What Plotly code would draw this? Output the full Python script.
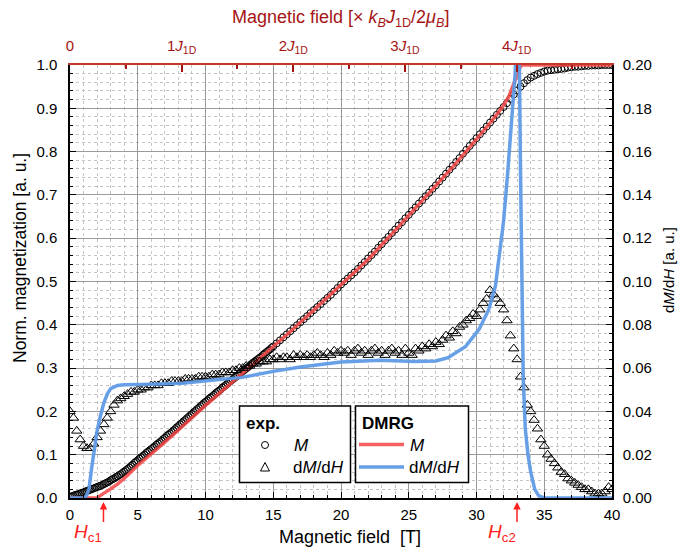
import plotly.graph_objects as go

# ---------------- data ----------------
# field grid of the exp. dM/dH sweep (and high-field part of the M sweep), in T
H_exp = [
    0, 0.25, 0.5, 0.75, 1, 1.25, 1.5, 1.75, 2, 2.25, 2.5, 2.75, 3, 3.25, 3.5, 3.75,
    4, 4.25, 4.5, 4.75, 5, 5.25, 5.5, 5.75, 6, 6.25, 6.5, 6.75, 7, 7.25, 7.5, 7.75,
    8, 8.25, 8.5, 8.75, 9, 9.25, 9.5, 9.75, 10, 10.25, 10.5, 10.75, 11, 11.25, 11.5, 11.75,
    12, 12.25, 12.5, 12.75, 13, 13.25, 13.5, 13.75, 14, 14.25, 14.5, 14.75, 15, 15.25, 15.5, 15.75,
    16, 16.25, 16.5, 16.75, 17, 17.25, 17.5, 17.75, 18, 18.25, 18.5, 18.75, 19, 19.25, 19.5, 19.75,
    20, 20.25, 20.5, 20.75, 21, 21.25, 21.5, 21.75, 22, 22.25, 22.5, 22.75, 23, 23.25, 23.5, 23.75,
    24, 24.25, 24.5, 24.75, 25, 25.25, 25.5, 25.75, 26, 26.25, 26.5, 26.75, 27, 27.25, 27.5, 27.75,
    28, 28.25, 28.5, 28.75, 29, 29.25, 29.5, 29.75, 30, 30.25, 30.5, 30.75, 31, 31.25, 31.5, 31.75,
    32, 32.25, 32.5, 32.75, 33, 33.25, 33.5, 33.75, 34, 34.25, 34.5, 34.75, 35, 35.25, 35.5, 35.75,
    36, 36.25, 36.5, 36.75, 37, 37.25, 37.5, 37.75, 38, 38.25, 38.5, 38.75, 39, 39.25, 39.5, 39.75,
    40]

# dense low-field part of the M sweep, in T
H_lo = [
    0, 0.125, 0.25, 0.375, 0.5, 0.625, 0.75, 0.875,
    1, 1.125, 1.25, 1.375, 1.5, 1.625, 1.75, 1.875,
    2, 2.125, 2.25, 2.375, 2.5, 2.625, 2.75, 2.875,
    3, 3.125, 3.25, 3.375, 3.5, 3.625, 3.75, 3.875,
    4, 4.125, 4.25, 4.375, 4.5, 4.625, 4.75, 4.875,
    5, 5.125, 5.25, 5.375, 5.5, 5.625, 5.75, 5.875,
    6, 6.125, 6.25, 6.375, 6.5, 6.625, 6.75, 6.875,
    7, 7.125, 7.25, 7.375, 7.5, 7.625, 7.75, 7.875,
    8, 8.125, 8.25, 8.375, 8.5, 8.625, 8.75, 8.875,
    9, 9.125, 9.25, 9.375, 9.5, 9.625, 9.75, 9.875,
    10, 10.125, 10.25, 10.375, 10.5, 10.625, 10.75, 10.875,
    11, 11.125, 11.25, 11.375, 11.5, 11.625, 11.75, 11.875,
    12, 12.125, 12.25, 12.375, 12.5, 12.625, 12.75, 12.875,
    13, 13.125, 13.25, 13.375, 13.5, 13.625, 13.75, 13.875,
    14, 14.125, 14.25, 14.375, 14.5, 14.625, 14.75, 14.875,
    15]

M_lo = [
    0.003, 0.004, 0.005, 0.007, 0.008, 0.009, 0.010, 0.012,
    0.013, 0.015, 0.016, 0.018, 0.019, 0.021, 0.022, 0.024,
    0.025, 0.027, 0.028, 0.030, 0.032, 0.034, 0.036, 0.038,
    0.041, 0.043, 0.045, 0.048, 0.050, 0.053, 0.055, 0.058,
    0.061, 0.064, 0.067, 0.070, 0.074, 0.077, 0.081, 0.084,
    0.087, 0.091, 0.094, 0.097, 0.100, 0.104, 0.107, 0.110,
    0.113, 0.116, 0.119, 0.123, 0.126, 0.129, 0.132, 0.136,
    0.139, 0.143, 0.146, 0.149, 0.152, 0.156, 0.159, 0.163,
    0.166, 0.170, 0.173, 0.177, 0.180, 0.184, 0.187, 0.191,
    0.194, 0.198, 0.201, 0.205, 0.208, 0.212, 0.215, 0.219,
    0.222, 0.225, 0.229, 0.232, 0.235, 0.238, 0.242, 0.245,
    0.248, 0.251, 0.255, 0.258, 0.261, 0.264, 0.268, 0.271,
    0.274, 0.277, 0.280, 0.283, 0.287, 0.290, 0.293, 0.296,
    0.299, 0.302, 0.305, 0.309, 0.312, 0.315, 0.318, 0.321,
    0.324, 0.327, 0.331, 0.334, 0.337, 0.340, 0.343, 0.347,
    0.350]

# M sweep above 15 T (on H_exp[61:] = 15.25 ... 40 T)
M_hi = [
    0.357, 0.364, 0.371,
    0.378, 0.385, 0.392, 0.399, 0.406, 0.413, 0.420, 0.427, 0.434, 0.441, 0.448, 0.455, 0.462, 0.469, 0.477, 0.485,
    0.493, 0.500, 0.507, 0.514, 0.521, 0.529, 0.537, 0.545, 0.553, 0.561, 0.569, 0.578, 0.586, 0.595, 0.603, 0.612,
    0.620, 0.629, 0.637, 0.646, 0.654, 0.663, 0.671, 0.680, 0.688, 0.697, 0.705, 0.714, 0.722, 0.731, 0.740, 0.749,
    0.758, 0.767, 0.776, 0.785, 0.795, 0.804, 0.813, 0.822, 0.831, 0.840, 0.849, 0.858, 0.867, 0.876, 0.885, 0.894,
    0.903, 0.912, 0.922, 0.932, 0.941, 0.950, 0.958, 0.965, 0.971, 0.975, 0.979, 0.982, 0.985, 0.987, 0.988, 0.989,
    0.990, 0.991, 0.992, 0.994, 0.995, 0.996, 0.996, 0.997, 0.998, 0.998, 0.999, 0.999, 0.999, 1.000, 1.000, 1.000,
    1.000]

dMdH_exp = [
    0.040, 0.037, 0.031, 0.027, 0.024, 0.023, 0.023, 0.025, 0.028, 0.031, 0.034, 0.037, 0.040, 0.043, 0.045, 0.046,
    0.047, 0.048, 0.049, 0.049, 0.050, 0.050, 0.051, 0.051, 0.052, 0.052, 0.052, 0.053, 0.053, 0.053, 0.054, 0.054,
    0.054, 0.054, 0.055, 0.055, 0.055, 0.055, 0.056, 0.056, 0.056, 0.056, 0.057, 0.057, 0.057, 0.058, 0.058, 0.058,
    0.059, 0.059, 0.060, 0.060, 0.061, 0.061, 0.062, 0.062, 0.063, 0.063, 0.063, 0.064, 0.064, 0.065, 0.064, 0.065,
    0.065, 0.064, 0.066, 0.065, 0.066, 0.065, 0.066, 0.065, 0.066, 0.067, 0.066, 0.065, 0.067, 0.066, 0.068, 0.067,
    0.068, 0.067, 0.068, 0.066, 0.068, 0.069, 0.067, 0.068, 0.066, 0.068, 0.069, 0.067, 0.068, 0.066, 0.068, 0.069,
    0.067, 0.068, 0.066, 0.069, 0.067, 0.066, 0.069, 0.068, 0.070, 0.069, 0.071, 0.070, 0.072, 0.071, 0.073, 0.075,
    0.074, 0.077, 0.076, 0.079, 0.080, 0.082, 0.083, 0.085, 0.084, 0.087, 0.090, 0.092, 0.096, 0.094, 0.092, 0.090,
    0.087, 0.082, 0.075, 0.069, 0.064, 0.056, 0.051, 0.043, 0.040, 0.036, 0.032, 0.027, 0.024, 0.020, 0.018, 0.016,
    0.014, 0.012, 0.011, 0.009, 0.008, 0.007, 0.006, 0.005, 0.004, 0.004, 0.003, 0.002, 0.002, 0.002, 0.003, 0.005,
    0.004]

H_dmrg_M = [0, 2.0, 2.2, 2.6, 3.0, 3.5, 4, 5, 6, 7, 8, 9, 10, 11, 12, 13, 14, 15, 16, 18, 20, 22, 24,
            26, 27, 28, 29, 30, 30.5, 31, 31.5, 32, 32.4, 32.7, 33.0, 33.2, 33.35, 34, 36, 40]
M_dmrg = [0, 0, 0.005, 0.012, 0.021, 0.032, 0.045, 0.075, 0.101, 0.129, 0.157, 0.186, 0.214, 0.241,
          0.268, 0.295, 0.322, 0.349, 0.377, 0.434, 0.492, 0.551, 0.618, 0.686, 0.720, 0.756, 0.792,
          0.828, 0.847, 0.866, 0.886, 0.907, 0.928, 0.952, 0.980, 0.994, 1.0, 1.0, 1.0, 1.0]

H_dmrg_d = [0, 1.0, 1.2, 1.4, 1.6, 1.8, 2.0, 2.25, 2.5, 2.75, 3.0, 3.5, 4, 6, 8.3, 10.8, 12.6, 15, 17,
            20, 22.9, 25.4, 27, 27.9, 29.2, 30.2, 30.9, 31.4, 31.7, 32.0, 32.3, 32.6, 32.85, 33.05,
            33.15, 33.25, 33.35, 33.45, 33.6, 33.8, 34.0, 34.3, 34.6, 35, 40]
dMdH_dmrg = [0, 0, 0.001, 0.004, 0.014, 0.024, 0.031, 0.038, 0.044, 0.048, 0.0505, 0.052, 0.0523,
             0.0525, 0.053, 0.0546, 0.0556, 0.0585, 0.0605, 0.0628, 0.0636, 0.063, 0.0633, 0.0648,
             0.070, 0.078, 0.087, 0.098, 0.112, 0.128, 0.150, 0.174, 0.196, 0.23, 0.21, 0.15, 0.095,
             0.055, 0.032, 0.020, 0.012, 0.004, 0.001, 0, 0]

J_ticks = [0, 1, 2, 3, 4]
J_ticktext = ["0", "1<i>J</i><sub>1D</sub>", "2<i>J</i><sub>1D</sub>",
              "3<i>J</i><sub>1D</sub>", "4<i>J</i><sub>1D</sub>"]
T_PER_J = 8.24
Hc1, Hc2 = 2.47, 32.99

# ---------------- styles ----------------
FONT = "Arial, Liberation Sans, sans-serif"
DARKRED = "#a51414"
RED = "rgba(245,70,70,0.85)"
BLUE = "rgba(95,155,230,0.95)"
ML, MR, MT, MB, W, Hh = 70, 77, 65, 50, 689, 548
PW, PH = W - ML - MR, Hh - MT - MB


def X(px):
    return (px - ML) / PW


def Y(py):
    return (Hh - MB - py) / PH


H_M = H_lo + H_exp[61:]
M_all = M_lo + M_hi

fig = go.Figure()
fig.add_trace(go.Scatter(x=H_M, y=M_all, mode="markers",
                         marker=dict(symbol="circle-open", size=7, color="black",
                                     line=dict(width=1, color="black"))))
fig.add_trace(go.Scatter(x=H_dmrg_M, y=M_dmrg, mode="lines",
                         line=dict(color=RED, width=3.5)))
fig.add_trace(go.Scatter(x=[0], y=[None], xaxis="x2", yaxis="y", mode="markers",
                         hoverinfo="skip"))
fig.add_trace(go.Scatter(x=H_exp, y=dMdH_exp, mode="markers", yaxis="y2",
                         marker=dict(symbol="triangle-up-open", size=9, color="black",
                                     line=dict(width=1, color="black"))))
fig.add_trace(go.Scatter(x=H_dmrg_d, y=dMdH_dmrg, mode="lines", yaxis="y2",
                         line=dict(color=BLUE, width=3.5)))

minor_grid = dict(showgrid=True, gridcolor="#c4c4c4", griddash="dot", gridwidth=1,
                  ticks="inside", ticklen=3, tickcolor="black", tickwidth=1)

fig.update_layout(
    width=W, height=Hh, margin=dict(l=ML, r=MR, t=MT, b=MB),
    paper_bgcolor="white", plot_bgcolor="white", showlegend=False,
    font=dict(family=FONT, size=15, color="black"),
    xaxis=dict(range=[0, 40], tick0=0, dtick=5, ticks="inside", ticklen=6, tickwidth=1,
               tickcolor="black", showline=True, linecolor="black", linewidth=1.5,
               showgrid=True, gridcolor="#9a9a9a", gridwidth=1, zeroline=False,
               minor=dict(dtick=1, **minor_grid), ticklabelstandoff=2),
    xaxis2=dict(overlaying="x", side="top", range=[0, 40 / T_PER_J], tickmode="array",
                tickvals=J_ticks, ticktext=J_ticktext, ticks="inside", ticklen=7,
                tickwidth=1.5, tickcolor=DARKRED, showline=True, linecolor="#c0392b",
                linewidth=2, showgrid=False, zeroline=False,
                tickfont=dict(color=DARKRED, size=15), ticklabelstandoff=6,
                minor=dict(tickmode="linear", tick0=0, dtick=0.5, ticks="inside",
                           ticklen=4, tickcolor=DARKRED, tickwidth=1.5, showgrid=False)),
    yaxis=dict(range=[0, 1], tick0=0, dtick=0.1, tickformat=".1f", ticks="inside",
               ticklen=6, tickwidth=1, tickcolor="black", showline=True, linecolor="black",
               linewidth=1.5, showgrid=True, gridcolor="#9a9a9a", gridwidth=1, zeroline=False,
               minor=dict(dtick=0.02, **minor_grid), ticklabelstandoff=8),
    yaxis2=dict(overlaying="y", side="right", range=[0, 0.2], tick0=0, dtick=0.02,
                tickformat=".2f", ticks="inside", ticklen=6, tickwidth=1, tickcolor="black",
                showline=True, linecolor="black", linewidth=1.5, showgrid=False,
                zeroline=False, ticklabelstandoff=6,
                minor=dict(dtick=0.004, ticks="inside", ticklen=3, tickcolor="black",
                           showgrid=False)),
)


def txt(px, py, text, size, color="black", angle=0, xa="center"):
    return dict(x=X(px), y=Y(py), xref="paper", yref="paper", showarrow=False,
                xanchor=xa, yanchor="middle", textangle=angle, text=text,
                font=dict(size=size, color=color))


ann = []
ann.append(txt(350, 537, "Magnetic field\u00a0 [T]", 18))
ann.append(txt(340, 18, "Magnetic field [× <i>k</i><sub><i>B</i></sub><i>J</i><sub>1D</sub>"
                        "/2<i>μ</i><sub><i>B</i></sub>]", 18, DARKRED))
ann.append(txt(20, 258, "Norm. magnetization [a. u.]", 17.5, angle=-90))
ann.append(txt(668, 270, "d<i>M</i>/d<i>H</i> [a. u.]", 15, angle=-90))
for hc, lab, lx in [(Hc1, "<i>H</i><sub>c1</sub>", 88), (Hc2, "<i>H</i><sub>c2</sub>", 502)]:
    ann.append(dict(x=hc, y=Y(502), xref="x", yref="paper", ax=0, ay=21, text=" ",
                    font=dict(size=1), borderpad=0, showarrow=True, arrowhead=2,
                    arrowsize=1, arrowwidth=1.5, arrowcolor="#ff2020", standoff=0))
    ann.append(txt(lx, 533, lab, 19, "#ff2020"))
leg_txt = [(244, 423, "<b>exp.</b>"), (292, 445, "<i>M</i>"),
           (291, 467, "d<i>M</i>/d<i>H</i>"), (360, 423, "<b>DMRG</b>"),
           (408, 445, "<i>M</i>"), (407, 467, "d<i>M</i>/d<i>H</i>")]
for px, py, t in leg_txt:
    ann.append(txt(px, py, t, 17, xa="left"))
fig.update_layout(annotations=ann)

shapes = []
for x0, x1 in [(239.5, 350.5), (355.5, 468.5)]:
    shapes.append(dict(type="rect", xref="paper", yref="paper", x0=X(x0), x1=X(x1),
                       y0=Y(482.5), y1=Y(406), line=dict(color="black", width=1.5),
                       fillcolor="white", layer="above"))
shapes.append(dict(type="circle", xref="paper", yref="paper", x0=X(261.5), x1=X(268.5),
                   y0=Y(448.5), y1=Y(441.5), line=dict(color="black", width=1), layer="above"))
shapes.append(dict(type="path", xref="paper", yref="paper",
                   path=f"M {X(260.5)} {Y(471)} L {X(269.5)} {Y(471)} L {X(265)} {Y(462.5)} Z",
                   line=dict(color="black", width=1), layer="above"))
shapes.append(dict(type="line", xref="paper", yref="paper", x0=X(359), x1=X(404),
                   y0=Y(444.5), y1=Y(444.5), line=dict(color=RED, width=3.5), layer="above"))
shapes.append(dict(type="line", xref="paper", yref="paper", x0=X(359), x1=X(404),
                   y0=Y(467), y1=Y(467), line=dict(color=BLUE, width=3.5), layer="above"))
fig.update_layout(shapes=shapes)

fig.write_html("out.html")
